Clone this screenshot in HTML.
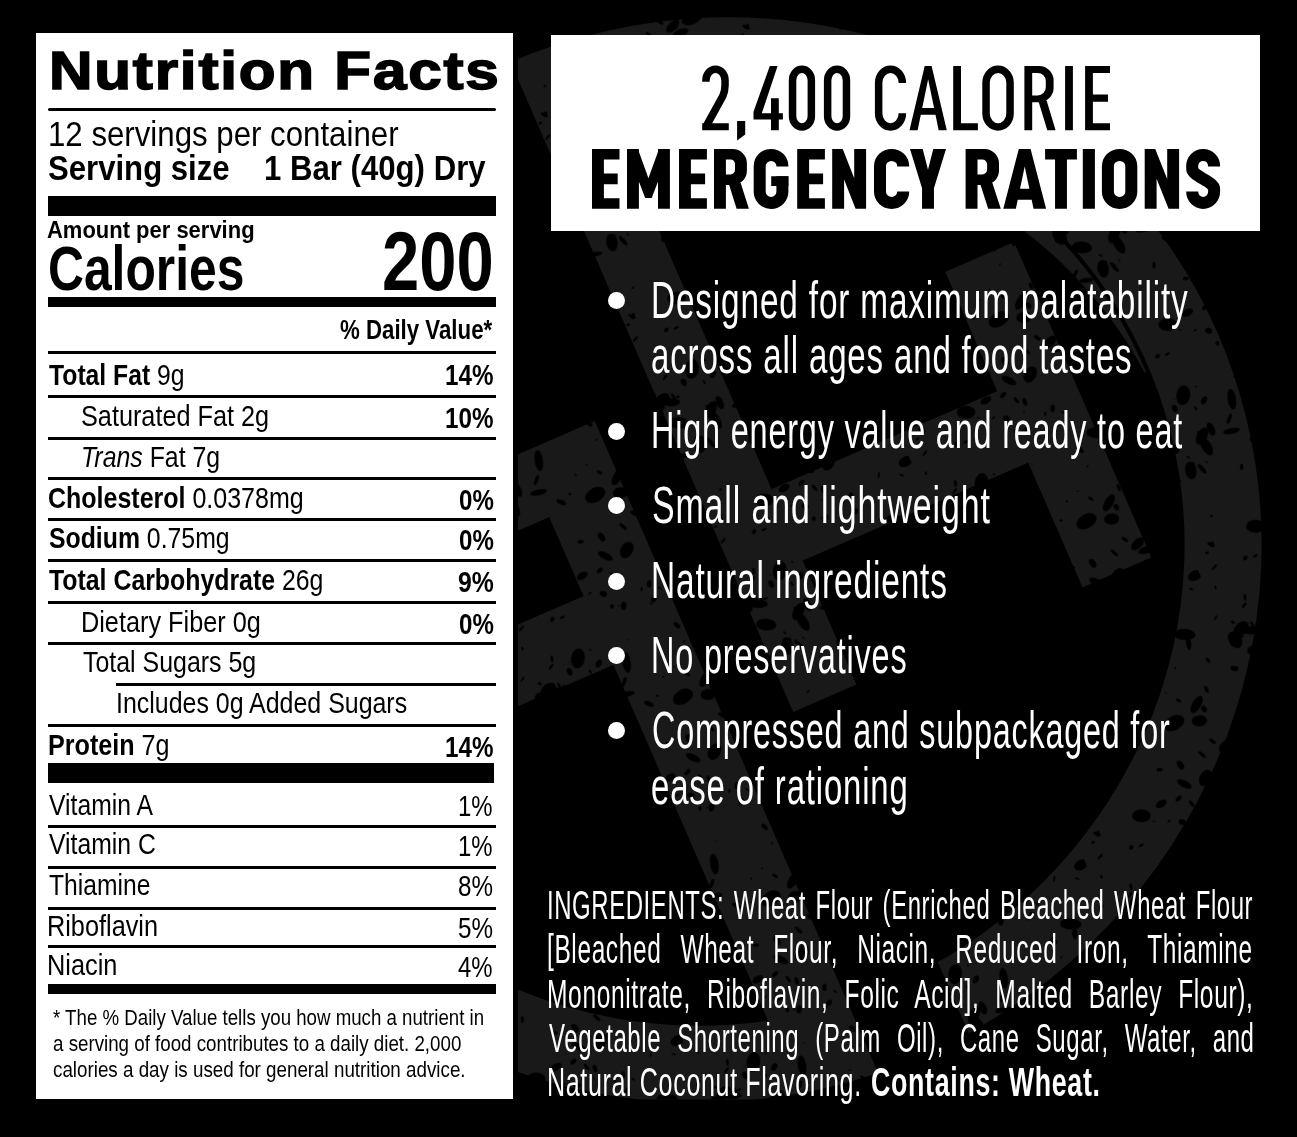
<!DOCTYPE html>
<html><head><meta charset="utf-8"><title>Nutrition Facts</title>
<style>
html,body{margin:0;padding:0;background:#000;}
body{width:1297px;height:1137px;position:relative;overflow:hidden;font-family:"Liberation Sans",sans-serif;}
.wm{position:absolute;left:0;top:0;}
.panel{position:absolute;background:#fff;}
.t{position:absolute;white-space:nowrap;line-height:1;transform-origin:0 0;color:#000;}
.w{color:#fff;}
.g{letter-spacing:1.0px;}
.bt{position:absolute;white-space:nowrap;line-height:1;color:transparent;transform-origin:0 0;transform:scaleX(.6);}
.r{position:absolute;background:#000;}
.dot{position:absolute;width:17px;height:17px;border-radius:50%;background:#fff;}
</style></head><body>
<svg class="wm" width="1297" height="1137" viewBox="0 0 1297 1137">
<defs><clipPath id="wc"><rect x="518" y="0" width="779" height="1099.5"/></clipPath>
<clipPath id="cr"><rect x="81" y="-700" width="700" height="700"/></clipPath>
<clipPath id="oe"><ellipse rx="553" ry="537" transform="rotate(-12.5)"/></clipPath>
<pattern id="sp" width="220" height="220" patternUnits="userSpaceOnUse"><g fill="#000"><ellipse cx="71" cy="33" rx="1.4" ry="0.8" transform="rotate(66 71 33)"/><ellipse cx="13" cy="112" rx="7.3" ry="2.4" transform="rotate(16 13 112)"/><ellipse cx="93" cy="182" rx="6.0" ry="3.5" transform="rotate(171 93 182)"/><ellipse cx="127" cy="87" rx="1.3" ry="0.9" transform="rotate(52 127 87)"/><ellipse cx="32" cy="26" rx="3.6" ry="1.4" transform="rotate(105 32 26)"/><ellipse cx="141" cy="82" rx="1.4" ry="0.5" transform="rotate(37 141 82)"/><ellipse cx="150" cy="94" rx="3.0" ry="1.5" transform="rotate(54 150 94)"/><ellipse cx="175" cy="154" rx="8.2" ry="4.4" transform="rotate(158 175 154)"/><ellipse cx="160" cy="63" rx="1.6" ry="0.8" transform="rotate(136 160 63)"/><ellipse cx="33" cy="108" rx="8.8" ry="5.7" transform="rotate(103 33 108)"/><ellipse cx="193" cy="69" rx="3.0" ry="1.7" transform="rotate(82 193 69)"/><ellipse cx="185" cy="208" rx="3.2" ry="1.0" transform="rotate(126 185 208)"/><ellipse cx="142" cy="218" rx="2.1" ry="1.0" transform="rotate(120 142 218)"/><ellipse cx="5" cy="102" rx="5.3" ry="1.7" transform="rotate(138 5 102)"/><ellipse cx="28" cy="54" rx="3.8" ry="1.3" transform="rotate(81 28 54)"/><ellipse cx="121" cy="194" rx="3.8" ry="1.6" transform="rotate(75 121 194)"/><ellipse cx="79" cy="195" rx="1.7" ry="0.6" transform="rotate(42 79 195)"/><ellipse cx="51" cy="107" rx="2.0" ry="0.6" transform="rotate(75 51 107)"/><ellipse cx="81" cy="125" rx="3.3" ry="1.7" transform="rotate(111 81 125)"/><ellipse cx="149" cy="12" rx="3.5" ry="2.5" transform="rotate(144 149 12)"/><ellipse cx="86" cy="88" rx="8.6" ry="2.8" transform="rotate(12 86 88)"/><ellipse cx="46" cy="36" rx="1.4" ry="0.4" transform="rotate(27 46 36)"/><ellipse cx="22" cy="80" rx="10.2" ry="5.9" transform="rotate(27 22 80)"/><ellipse cx="55" cy="76" rx="1.6" ry="1.1" transform="rotate(179 55 76)"/><ellipse cx="103" cy="106" rx="5.2" ry="2.3" transform="rotate(48 103 106)"/><ellipse cx="182" cy="36" rx="10.7" ry="5.7" transform="rotate(26 182 36)"/><ellipse cx="119" cy="6" rx="4.1" ry="2.8" transform="rotate(125 119 6)"/><ellipse cx="57" cy="81" rx="9.5" ry="5.1" transform="rotate(140 57 81)"/><ellipse cx="73" cy="49" rx="4.2" ry="2.8" transform="rotate(145 73 49)"/><ellipse cx="180" cy="163" rx="7.9" ry="3.6" transform="rotate(5 180 163)"/><ellipse cx="6" cy="61" rx="9.0" ry="6.6" transform="rotate(81 6 61)"/><ellipse cx="206" cy="217" rx="2.3" ry="0.9" transform="rotate(41 206 217)"/><ellipse cx="43" cy="45" rx="3.9" ry="2.6" transform="rotate(86 43 45)"/><ellipse cx="144" cy="176" rx="8.8" ry="6.2" transform="rotate(141 144 176)"/><ellipse cx="165" cy="105" rx="9.6" ry="4.3" transform="rotate(144 165 105)"/><ellipse cx="214" cy="87" rx="4.0" ry="2.5" transform="rotate(31 214 87)"/><ellipse cx="28" cy="33" rx="3.6" ry="1.3" transform="rotate(149 28 33)"/><ellipse cx="216" cy="145" rx="2.8" ry="1.0" transform="rotate(3 216 145)"/><ellipse cx="214" cy="143" rx="4.0" ry="2.0" transform="rotate(157 214 143)"/><ellipse cx="182" cy="46" rx="6.4" ry="2.6" transform="rotate(106 182 46)"/><ellipse cx="57" cy="92" rx="10.4" ry="4.8" transform="rotate(82 57 92)"/><ellipse cx="128" cy="199" rx="4.0" ry="2.1" transform="rotate(96 128 199)"/><ellipse cx="115" cy="4" rx="1.7" ry="0.5" transform="rotate(144 115 4)"/><ellipse cx="38" cy="104" rx="2.9" ry="1.3" transform="rotate(93 38 104)"/><ellipse cx="122" cy="173" rx="8.1" ry="3.4" transform="rotate(50 122 173)"/><ellipse cx="170" cy="112" rx="3.5" ry="2.5" transform="rotate(80 170 112)"/><ellipse cx="135" cy="111" rx="3.3" ry="1.7" transform="rotate(96 135 111)"/><ellipse cx="105" cy="207" rx="3.8" ry="2.8" transform="rotate(47 105 207)"/><ellipse cx="123" cy="208" rx="1.6" ry="0.6" transform="rotate(80 123 208)"/><ellipse cx="16" cy="53" rx="8.9" ry="5.8" transform="rotate(161 16 53)"/><ellipse cx="34" cy="158" rx="1.6" ry="1.1" transform="rotate(174 34 158)"/><ellipse cx="48" cy="210" rx="2.7" ry="2.0" transform="rotate(150 48 210)"/><ellipse cx="36" cy="95" rx="2.2" ry="0.9" transform="rotate(57 36 95)"/><ellipse cx="159" cy="4" rx="2.5" ry="0.8" transform="rotate(60 159 4)"/><ellipse cx="137" cy="113" rx="10.9" ry="7.1" transform="rotate(175 137 113)"/><ellipse cx="23" cy="58" rx="9.6" ry="4.0" transform="rotate(23 23 58)"/><ellipse cx="93" cy="201" rx="2.0" ry="0.7" transform="rotate(165 93 201)"/><ellipse cx="126" cy="154" rx="4.9" ry="3.0" transform="rotate(77 126 154)"/><ellipse cx="16" cy="206" rx="3.6" ry="1.2" transform="rotate(154 16 206)"/><ellipse cx="15" cy="190" rx="2.2" ry="1.2" transform="rotate(167 15 190)"/><ellipse cx="59" cy="28" rx="1.9" ry="0.7" transform="rotate(29 59 28)"/><ellipse cx="11" cy="44" rx="2.1" ry="1.4" transform="rotate(52 11 44)"/><ellipse cx="110" cy="39" rx="1.3" ry="0.5" transform="rotate(3 110 39)"/><ellipse cx="161" cy="121" rx="7.6" ry="5.5" transform="rotate(19 161 121)"/><ellipse cx="180" cy="95" rx="3.7" ry="1.8" transform="rotate(91 180 95)"/><ellipse cx="151" cy="216" rx="3.7" ry="2.3" transform="rotate(114 151 216)"/><ellipse cx="89" cy="76" rx="5.3" ry="1.8" transform="rotate(133 89 76)"/><ellipse cx="56" cy="36" rx="10.0" ry="6.9" transform="rotate(121 56 36)"/><ellipse cx="62" cy="53" rx="2.6" ry="1.0" transform="rotate(80 62 53)"/><ellipse cx="58" cy="212" rx="2.8" ry="1.2" transform="rotate(174 58 212)"/><ellipse cx="68" cy="78" rx="7.0" ry="3.6" transform="rotate(90 68 78)"/><ellipse cx="44" cy="111" rx="6.2" ry="2.1" transform="rotate(72 44 111)"/><ellipse cx="9" cy="5" rx="1.9" ry="1.1" transform="rotate(95 9 5)"/><ellipse cx="165" cy="145" rx="3.8" ry="1.8" transform="rotate(59 165 145)"/><ellipse cx="217" cy="33" rx="3.1" ry="1.0" transform="rotate(150 217 33)"/><ellipse cx="196" cy="138" rx="3.6" ry="1.3" transform="rotate(94 196 138)"/><ellipse cx="111" cy="184" rx="3.7" ry="2.1" transform="rotate(161 111 184)"/><ellipse cx="150" cy="153" rx="4.7" ry="1.7" transform="rotate(65 150 153)"/><ellipse cx="23" cy="184" rx="3.1" ry="1.8" transform="rotate(123 23 184)"/><ellipse cx="108" cy="1" rx="3.4" ry="1.8" transform="rotate(96 108 1)"/><ellipse cx="145" cy="15" rx="2.0" ry="0.7" transform="rotate(48 145 15)"/><ellipse cx="160" cy="45" rx="4.1" ry="2.2" transform="rotate(69 160 45)"/><ellipse cx="105" cy="150" rx="3.1" ry="1.8" transform="rotate(14 105 150)"/><ellipse cx="32" cy="56" rx="2.1" ry="1.2" transform="rotate(2 32 56)"/><ellipse cx="13" cy="59" rx="3.3" ry="2.0" transform="rotate(52 13 59)"/><ellipse cx="114" cy="102" rx="1.6" ry="1.1" transform="rotate(36 114 102)"/><ellipse cx="215" cy="206" rx="7.5" ry="5.0" transform="rotate(174 215 206)"/><ellipse cx="99" cy="59" rx="10.6" ry="4.2" transform="rotate(105 99 59)"/><ellipse cx="31" cy="115" rx="1.6" ry="1.1" transform="rotate(92 31 115)"/><ellipse cx="195" cy="155" rx="10.3" ry="5.4" transform="rotate(4 195 155)"/><ellipse cx="1" cy="108" rx="2.1" ry="0.8" transform="rotate(62 1 108)"/><ellipse cx="70" cy="185" rx="9.4" ry="6.4" transform="rotate(22 70 185)"/><ellipse cx="204" cy="157" rx="2.1" ry="1.0" transform="rotate(71 204 157)"/><ellipse cx="220" cy="130" rx="2.5" ry="1.1" transform="rotate(9 220 130)"/><ellipse cx="22" cy="184" rx="4.0" ry="1.7" transform="rotate(48 22 184)"/></g></pattern>
<mask id="gap" maskUnits="userSpaceOnUse" x="-700" y="-700" width="1400" height="1400"><rect x="-700" y="-700" width="1400" height="1400" fill="#fff"/><rect x="-56" y="300" width="101" height="300" fill="#000"/><rect x="-95" y="-600" width="109" height="300" fill="#000"/></mask>
<mask id="cres" maskUnits="userSpaceOnUse" x="-700" y="-700" width="1400" height="1400"><ellipse rx="472" ry="456" transform="rotate(-12.5)" fill="#fff"/><ellipse rx="472" ry="456" transform="translate(0 43) rotate(-12.5)" fill="#000"/></mask></defs>
<g clip-path="url(#wc)"><g transform="translate(714 560) rotate(-23.5)" fill="#191919">
<g mask="url(#gap)"><ellipse rx="514.5" ry="498.5" transform="rotate(-12.5)" fill="none" stroke="#191919" stroke-width="77"/></g>
<g clip-path="url(#cr)"><rect x="-700" y="-700" width="1400" height="1400" mask="url(#cres)"/></g>
<g clip-path="url(#oe)"><rect x="12" y="-600" width="69" height="771"/>
<rect x="-134" y="-175" width="80" height="775"/></g>
<rect x="80" y="-42" width="248" height="78"/>
<rect x="327" y="-172" width="75" height="344"/>
<rect x="-420" y="-175" width="290" height="70"/>
<rect x="-420" y="-19" width="290" height="75"/>
<rect x="-700" y="-700" width="1400" height="1400" fill="url(#sp)"/>
</g></g></svg>
<div class="panel" style="left:36px;top:33.3px;width:477px;height:1065.8px"></div>
<div class="panel" style="left:550.7px;top:35.3px;width:709px;height:195.9px"></div>
<svg class="wm" width="1297" height="1137" viewBox="0 0 1297 1137">
<path fill="#000" d="M702.2 123.3 L728.8 123.3 L728.8 130.2 L702.2 130.2Z M737.1 121.1 L745.2 121.1 L745.2 134.4 L737.1 140.6Z M771 98.2 L778.8 98.2 L778.8 130.2 L771 130.2Z M753.5 113.3 L782.9 113.3 L782.9 119.6 L753.5 119.6Z M769.8 66 L777.6 66 L761.46 114.3 L753.5 114.3 L753.5 111.8Z M909.5 130.2 L924.7 66 L931.6 66 L946.8 130.2 L938.69 130.2 L928.15 79.3 L917.61 130.2Z M921.19 108.1 L935.11 108.1 L936.48 114.7 L919.82 114.7Z M953.2 66 L961 66 L961 130.2 L953.2 130.2Z M953.2 123.3 L977.9 123.3 L977.9 130.2 L953.2 130.2Z M1024.4 66 L1032.2 66 L1032.2 130.2 L1024.4 130.2Z M1031.7 66H1039.15A14.45 14.45 0 0 1 1053.6 80.45V87.85A14.45 14.45 0 0 1 1039.15 102.3H1031.7ZM1031.7 72.9V95.4H1037.74A8.06 8.06 0 0 0 1045.8 87.34V80.96A8.06 8.06 0 0 0 1037.74 72.9Z M1038.5 101.5 L1046.6 100.5 L1055.6 130.2 L1047.3 130.2Z M1065.1 66 L1072.9 66 L1072.9 130.2 L1065.1 130.2Z M1085.1 66 L1092.9 66 L1092.9 130.2 L1085.1 130.2Z M1085.1 66 L1110 66 L1110 72.9 L1085.1 72.9Z M1085.1 123.3 L1110 123.3 L1110 130.2 L1085.1 130.2Z M1085.1 94.45 L1108 94.45 L1108 101.75 L1085.1 101.75Z"/>
<path fill="none" stroke="#000" stroke-width="7.5" stroke-linejoin="round" d="M705.95 81.81V80.23A9.55 10.98 0 0 1 725.05 80.23V85.26Q725.05 91.04 722.78 96.17L706.1 126.4 M792.55 80.06A9.4 10.81 0 0 1 811.35 80.06V116.14A9.4 10.81 0 0 1 792.55 116.14Z M827.65 80.06A9.4 10.81 0 0 1 846.45 80.06V116.14A9.4 10.81 0 0 1 827.65 116.14Z M902.35 83V82.6A11.85 13.35 0 0 0 878.65 82.6V113.6A11.85 13.35 0 0 0 902.35 113.6V113.2 M986.05 82.6A12 13.35 0 0 1 1010.05 82.6V113.6A12 13.35 0 0 1 986.05 113.6Z"/>
<path fill="#000" d="M592 149 L603.9 149 L603.9 208.8 L592 208.8Z M592 149 L619.5 149 L619.5 159.5 L592 159.5Z M592 198.3 L619.5 198.3 L619.5 208.8 L592 208.8Z M592 173.45 L617.7 173.45 L617.7 184.35 L592 184.35Z M627 149 L638.9 149 L638.9 208.8 L627 208.8Z M658 149 L669.9 149 L669.9 208.8 L658 208.8Z M637.9 149 L648.45 178.3 L659 149 L659 178.9 L651.7 198.04 L645.2 198.04 L637.9 178.9Z M679 149 L690.9 149 L690.9 208.8 L679 208.8Z M679 149 L706.9 149 L706.9 159.5 L679 159.5Z M679 198.3 L706.9 198.3 L706.9 208.8 L679 208.8Z M679 173.45 L705.1 173.45 L705.1 184.35 L679 184.35Z M714 149 L725.9 149 L725.9 208.8 L714 208.8Z M725.4 149H732.71A14.19 14.19 0 0 1 746.9 163.19V170.71A14.19 14.19 0 0 1 732.71 184.9H725.4ZM725.4 159.5V174.4H730.57A4.43 4.43 0 0 0 735 169.97V163.93A4.43 4.43 0 0 0 730.57 159.5Z M729 184.4 L740.7 183 L748.9 208.8 L736.6 208.8Z M771.2 176.3 L788.4 176.3 L788.4 186 L771.2 186Z M797.2 149 L809.1 149 L809.1 208.8 L797.2 208.8Z M797.2 149 L824.9 149 L824.9 159.5 L797.2 159.5Z M797.2 198.3 L824.9 198.3 L824.9 208.8 L797.2 208.8Z M797.2 173.45 L823.1 173.45 L823.1 184.35 L797.2 184.35Z M832.2 149 L842.73 149 L854.2 178.35 L854.2 149 L866.1 149 L866.1 208.8 L855.57 208.8 L844.1 179.45 L844.1 208.8 L832.2 208.8Z M910 149 L922.73 149 L928 169.63 L933.27 149 L946 149 L933.95 188.17 L933.95 208.8 L922.05 208.8 L922.05 188.17Z M965.6 149 L977.5 149 L977.5 208.8 L965.6 208.8Z M977 149H984.48A14.52 14.52 0 0 1 999 163.52V170.48A14.52 14.52 0 0 1 984.48 185H977ZM977 159.5V174.5H982.34A4.76 4.76 0 0 0 987.1 169.74V164.26A4.76 4.76 0 0 0 982.34 159.5Z M980.4 184.4 L992.4 183 L1000.8 208.8 L988.2 208.8Z M1003.3 208.8 L1018.8 149 L1030.6 149 L1046.1 208.8 L1033.55 208.8 L1024.7 166.6 L1015.85 208.8Z M1019.05 188.8 L1030.35 188.8 L1032.66 199.8 L1016.74 199.8Z M1045.1 149 L1076.9 149 L1076.9 159.5 L1045.1 159.5Z M1055.05 149 L1066.95 149 L1066.95 208.8 L1055.05 208.8Z M1082.8 149 L1094.9 149 L1094.9 208.8 L1082.8 208.8Z M1144.7 149 L1155.23 149 L1167.2 178.99 L1167.2 149 L1179.1 149 L1179.1 208.8 L1168.57 208.8 L1156.6 178.81 L1156.6 208.8 L1144.7 208.8Z"/>
<path fill="none" stroke="#000" stroke-width="12" stroke-linejoin="round" d="M782.4 166.4V166A11.35 11.1 0 0 0 759.7 166V191.8A11.35 11.1 0 0 0 782.4 191.8V176.3 M903.2 166.4V166A11.6 11.1 0 0 0 880 166V191.8A11.6 11.1 0 0 0 903.2 191.8V191.4 M1107.9 166A11.7 11.1 0 0 1 1131.3 166V191.8A11.7 11.1 0 0 1 1107.9 191.8Z M1214.1 166.4V166A10.95 11.1 0 0 0 1192.2 166V169.03C1192.2 175.91 1214.1 181.89 1214.1 188.77V191.8A10.95 11.1 0 0 1 1192.2 191.8V191.4"/>
</svg>
<div class="bt" style="left:702px;top:62px;font-size:80px;">2,400 CALORIE</div>
<div class="bt" style="left:592px;top:146px;font-size:64px;font-weight:700;">EMERGENCY RATIONS</div>
<div class="r" style="left:47.5px;top:107.5px;width:448.7px;height:3.1px;border-radius:1.5px;"></div>
<div class="r" style="left:47.5px;top:196px;width:448.7px;height:20.2px;"></div>
<div class="r" style="left:47.5px;top:296.8px;width:448.7px;height:10.0px;"></div>
<div class="r" style="left:47.5px;top:351.0px;width:448.7px;height:3.1px;"></div>
<div class="r" style="left:47.5px;top:395.1px;width:448.7px;height:3.1px;"></div>
<div class="r" style="left:47.5px;top:436.5px;width:448.7px;height:3.1px;"></div>
<div class="r" style="left:47.5px;top:477.4px;width:448.7px;height:3.1px;"></div>
<div class="r" style="left:47.5px;top:518.2px;width:448.7px;height:3.1px;"></div>
<div class="r" style="left:47.5px;top:559.3px;width:448.7px;height:3.1px;"></div>
<div class="r" style="left:47.5px;top:600.8px;width:448.7px;height:3.1px;"></div>
<div class="r" style="left:47.5px;top:642.2px;width:448.7px;height:3.1px;"></div>
<div class="r" style="left:116.0px;top:682.9px;width:380.2px;height:3.1px;"></div>
<div class="r" style="left:47.5px;top:724.2px;width:448.7px;height:3.1px;"></div>
<div class="r" style="left:47.8px;top:762.9px;width:446.6px;height:19.9px;"></div>
<div class="r" style="left:47.5px;top:825.2px;width:448.7px;height:3.0px;"></div>
<div class="r" style="left:47.5px;top:865.8px;width:448.7px;height:3.0px;"></div>
<div class="r" style="left:47.5px;top:906.8px;width:448.7px;height:3.0px;"></div>
<div class="r" style="left:47.5px;top:945.2px;width:448.7px;height:3.0px;"></div>
<div class="r" style="left:47.5px;top:984.2px;width:448.7px;height:10.3px;"></div>
<div class="t" style="left:49.36px;top:44.04px;font-size:54.3px;transform:scaleX(1.1092);font-weight:700;-webkit-text-stroke:1.6px #000;letter-spacing:1.6px;">Nutrition Facts</div>
<div class="t" style="left:48.23px;top:116.30px;font-size:35.2px;transform:scaleX(0.8872);">12 servings per container</div>
<div class="t" style="left:47.92px;top:150.20px;font-size:35.2px;transform:scaleX(0.8843);font-weight:700;">Serving size</div>
<div class="t" style="left:264.23px;top:150.20px;font-size:35.2px;transform:scaleX(0.8852);font-weight:700;">1 Bar (40g) Dry</div>
<div class="t" style="left:47.40px;top:217.69px;font-size:24.7px;transform:scaleX(0.8901);font-weight:700;">Amount per serving</div>
<div class="t" style="left:48.43px;top:236.63px;font-size:63.4px;transform:scaleX(0.7849);font-weight:700;">Calories</div>
<div class="t" style="left:381.79px;top:219.74px;font-size:83.0px;transform:scaleX(0.8071);font-weight:700;">200</div>
<div class="t" style="left:339.80px;top:314.87px;font-size:28.5px;transform:scaleX(0.7811);font-weight:700;">% Daily Value*</div>
<div class="t" style="left:48.60px;top:359.83px;font-size:29.5px;transform:scaleX(0.8383);"><b>Total Fat</b> 9g</div>
<div class="t" style="left:445.18px;top:359.83px;font-size:29.5px;transform:scaleX(0.8199);font-weight:700;">14%</div>
<div class="t" style="left:81.04px;top:400.53px;font-size:29.5px;transform:scaleX(0.8562);">Saturated Fat 2g</div>
<div class="t" style="left:445.18px;top:402.53px;font-size:29.5px;transform:scaleX(0.8199);font-weight:700;">10%</div>
<div class="t" style="left:81.01px;top:441.53px;font-size:29.5px;transform:scaleX(0.8432);"><i>Trans</i> Fat 7g</div>
<div class="t" style="left:47.75px;top:482.63px;font-size:29.5px;transform:scaleX(0.8474);"><b>Cholesterol</b> 0.0378mg</div>
<div class="t" style="left:458.78px;top:484.63px;font-size:29.5px;transform:scaleX(0.8163);font-weight:700;">0%</div>
<div class="t" style="left:48.60px;top:523.43px;font-size:29.5px;transform:scaleX(0.8409);"><b>Sodium</b> 0.75mg</div>
<div class="t" style="left:458.78px;top:525.43px;font-size:29.5px;transform:scaleX(0.8163);font-weight:700;">0%</div>
<div class="t" style="left:49.00px;top:565.03px;font-size:29.5px;transform:scaleX(0.8425);"><b>Total Carbohydrate</b> 26g</div>
<div class="t" style="left:457.76px;top:567.03px;font-size:29.5px;transform:scaleX(0.8404);font-weight:700;">9%</div>
<div class="t" style="left:81.19px;top:606.63px;font-size:29.5px;transform:scaleX(0.8569);">Dietary Fiber 0g</div>
<div class="t" style="left:458.78px;top:608.63px;font-size:29.5px;transform:scaleX(0.8163);font-weight:700;">0%</div>
<div class="t" style="left:82.70px;top:647.23px;font-size:29.5px;transform:scaleX(0.8449);">Total Sugars 5g</div>
<div class="t" style="left:115.51px;top:687.93px;font-size:29.5px;transform:scaleX(0.8453);">Includes 0g Added Sugars</div>
<div class="t" style="left:48.15px;top:729.63px;font-size:29.5px;transform:scaleX(0.8522);"><b>Protein</b> 7g</div>
<div class="t" style="left:445.18px;top:731.63px;font-size:29.5px;transform:scaleX(0.8199);font-weight:700;">14%</div>
<div class="t" style="left:49.20px;top:789.63px;font-size:29.5px;transform:scaleX(0.8379);">Vitamin A</div>
<div class="t" style="left:457.98px;top:791.13px;font-size:29.5px;transform:scaleX(0.8118);">1%</div>
<div class="t" style="left:49.20px;top:829.43px;font-size:29.5px;transform:scaleX(0.8392);">Vitamin C</div>
<div class="t" style="left:457.98px;top:830.93px;font-size:29.5px;transform:scaleX(0.8118);">1%</div>
<div class="t" style="left:49.20px;top:869.93px;font-size:29.5px;transform:scaleX(0.8353);">Thiamine</div>
<div class="t" style="left:457.58px;top:871.43px;font-size:29.5px;transform:scaleX(0.8211);">8%</div>
<div class="t" style="left:47.49px;top:911.43px;font-size:29.5px;transform:scaleX(0.8570);">Riboflavin</div>
<div class="t" style="left:457.58px;top:912.93px;font-size:29.5px;transform:scaleX(0.8211);">5%</div>
<div class="t" style="left:47.48px;top:950.13px;font-size:29.5px;transform:scaleX(0.8591);">Niacin</div>
<div class="t" style="left:458.00px;top:951.63px;font-size:29.5px;transform:scaleX(0.8112);">4%</div>
<div class="t" style="left:52.50px;top:1007.45px;font-size:22.5px;transform:scaleX(0.8299);">* The % Daily Value tells you how much a nutrient in</div>
<div class="t" style="left:52.80px;top:1033.25px;font-size:22.5px;transform:scaleX(0.8328);">a serving of food contributes to a daily diet. 2,000</div>
<div class="t" style="left:52.80px;top:1059.15px;font-size:22.5px;transform:scaleX(0.8351);">calories a day is used for general nutrition advice.</div>
<div class="t" style="left:651.00px;top:274.57px;font-size:51.3px;transform:scaleX(0.6501);color:#fff;letter-spacing:1.3px;">Designed for maximum palatability</div>
<div class="t" style="left:651.21px;top:330.07px;font-size:51.3px;transform:scaleX(0.6441);color:#fff;letter-spacing:1.3px;">across all ages and food tastes</div>
<div class="t" style="left:651.07px;top:405.27px;font-size:51.3px;transform:scaleX(0.6314);color:#fff;letter-spacing:1.3px;">High energy value and ready to eat</div>
<div class="t" style="left:651.68px;top:480.07px;font-size:51.3px;transform:scaleX(0.6614);color:#fff;letter-spacing:1.3px;">Small and lightweight</div>
<div class="t" style="left:650.99px;top:555.37px;font-size:51.3px;transform:scaleX(0.6520);color:#fff;letter-spacing:1.3px;">Natural ingredients</div>
<div class="t" style="left:651.07px;top:630.07px;font-size:51.3px;transform:scaleX(0.6323);color:#fff;letter-spacing:1.3px;">No preservatives</div>
<div class="t" style="left:651.74px;top:704.67px;font-size:51.3px;transform:scaleX(0.6299);color:#fff;letter-spacing:1.3px;">Compressed and subpackaged for</div>
<div class="t" style="left:651.22px;top:761.17px;font-size:51.3px;transform:scaleX(0.6419);color:#fff;letter-spacing:1.3px;">ease of rationing</div>
<div class="dot" style="left:608.4px;top:291.8px"></div>
<div class="dot" style="left:608.4px;top:422.5px"></div>
<div class="dot" style="left:608.4px;top:497.3px"></div>
<div class="dot" style="left:608.4px;top:572.6px"></div>
<div class="dot" style="left:608.4px;top:647.3px"></div>
<div class="dot" style="left:608.4px;top:721.9px"></div>
<div class="t w g" style="left:546.72px;top:886.19px;font-size:40.3px;transform:scaleX(0.5936);word-spacing:3.97px">INGREDIENTS: Wheat Flour (Enriched Bleached Wheat Flour</div>
<div class="t w g" style="left:547.28px;top:930.39px;font-size:40.3px;transform:scaleX(0.6078);word-spacing:19.06px">[Bleached Wheat Flour, Niacin, Reduced Iron, Thiamine</div>
<div class="t w g" style="left:546.67px;top:974.59px;font-size:40.3px;transform:scaleX(0.6103);word-spacing:14.01px">Mononitrate, Riboflavin, Folic Acid], Malted Barley Flour),</div>
<div class="t w g" style="left:548.50px;top:1018.79px;font-size:40.3px;transform:scaleX(0.5958);word-spacing:14.65px">Vegetable Shortening (Palm Oil), Cane Sugar, Water, and</div>
<div class="t w g" style="left:546.63px;top:1062.99px;font-size:40.3px;transform:scaleX(0.6229)">Natural Coconut Flavoring.</div>
<div class="t w g" style="left:870.73px;top:1062.99px;font-size:40.3px;font-weight:700;transform:scaleX(0.6653)">Contains: Wheat.</div>
</body></html>
